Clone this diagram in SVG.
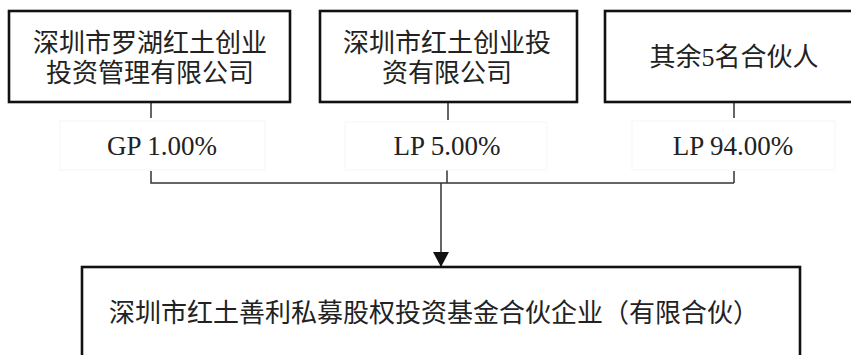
<svg xmlns="http://www.w3.org/2000/svg" width="851" height="355" viewBox="0 0 851 355">
<defs>
<style>
.box{fill:#fff;stroke:#111;stroke-width:2.6}
.lbl{fill:none;stroke:#f5f5f5;stroke-width:1}
.t{font-family:"Liberation Serif","Noto Sans CJK SC",serif;font-size:26px;fill:#222;text-anchor:middle}
.p{font-size:27px}
.c{fill:none;stroke:#333;stroke-width:1.5}
</style>
<marker id="ah" markerWidth="16" markerHeight="16" refX="15" refY="8" orient="auto" markerUnits="userSpaceOnUse">
<path d="M0,0 L15,8 L0,16 Z" fill="#111"/>
</marker>
</defs>
<rect width="851" height="355" fill="#fff"/>
<g id="connectors">
<path class="c" d="M151,102 V118"/>
<path class="c" d="M151,171 V183 H734"/>
<path class="c" d="M734,102 V118"/>
<path class="c" d="M734,171 V183"/>
<path class="c" d="M448,102 V120"/>
<path class="c" d="M447,170 V183"/>
<path class="c" d="M441,183 V267" marker-end="url(#ah)"/>
</g>
<g id="n1">
<rect class="box" x="9" y="11" width="281" height="91"/>
<text class="t" x="150" y="52">深圳市罗湖红土创业</text>
<text class="t" x="150" y="82">投资管理有限公司</text>
</g>
<g id="n2">
<rect class="box" x="320" y="11" width="257" height="91"/>
<text class="t" x="447" y="52">深圳市红土创业投</text>
<text class="t" x="447" y="82">资有限公司</text>
</g>
<g id="n3">
<rect class="box" x="605" y="11" width="260" height="91"/>
<text class="t" x="734" y="66">其余5名合伙人</text>
</g>
<g id="l1">
<rect class="lbl" x="60" y="121" width="205" height="49"/>
<text class="t p" x="162" y="155">GP 1.00%</text>
</g>
<g id="l2">
<rect class="lbl" x="345" y="122" width="202" height="48"/>
<text class="t p" x="447" y="155">LP 5.00%</text>
</g>
<g id="l3">
<rect class="lbl" x="632" y="121" width="203" height="49"/>
<text class="t p" x="733" y="155">LP 94.00%</text>
</g>
<g id="n4">
<rect class="box" x="82" y="267" width="718" height="100"/>
<text class="t" x="434" y="322">深圳市红土善利私募股权投资基金合伙企业（有限合伙）</text>
</g>
</svg>
